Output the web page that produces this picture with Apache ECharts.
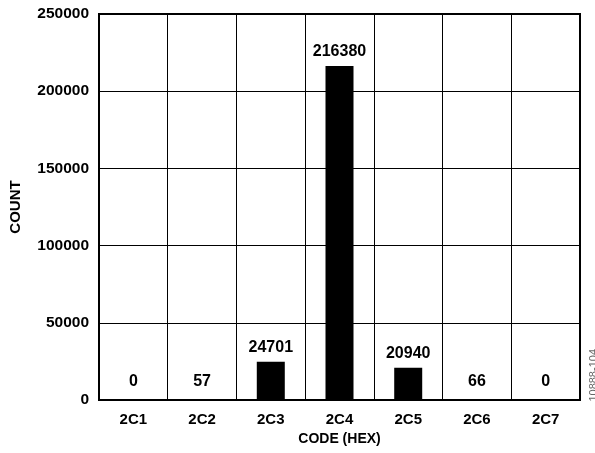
<!DOCTYPE html>
<html>
<head>
<meta charset="utf-8">
<script src="https://cdn.jsdelivr.net/npm/echarts@6/dist/echarts.min.js"></script>
<style>
html,body{margin:0;padding:0;background:#fff;}
#c{width:595px;height:453px;}
</style>
</head>
<body>
<div id="c"></div>
<script>
var categories = ['2C1','2C2','2C3','2C4','2C5','2C6','2C7'];
var counts = [0, 57, 24701, 216380, 20940, 66, 0];
var yMin = 0, yMax = 250000, yStep = 50000;

var FONT = '"Liberation Sans", Arial, sans-serif';
var chart = echarts.init(document.getElementById('c'), null, {renderer:'canvas'});
chart.setOption({
  animation: false,
  backgroundColor: '#fff',
  grid: {left: 98, right: 15, top: 14, bottom: 53, show: true, borderColor: '#000', borderWidth: 2, backgroundColor: 'transparent'},
  xAxis: {
    type: 'category',
    data: categories,
    name: 'CODE (HEX)',
    nameLocation: 'middle',
    nameGap: 30,
    nameTextStyle: {fontFamily: FONT, fontWeight: 'bold', fontSize: 14, color: '#000'},
    axisLine: {show: true, lineStyle: {color: '#000', width: 2}},
    axisTick: {show: false},
    axisLabel: {fontFamily: FONT, fontWeight: 'bold', fontSize: 15, color: '#000', margin: 12},
    splitLine: {show: true, lineStyle: {color: '#000', width: 1}}
  },
  yAxis: {
    type: 'value',
    min: yMin, max: yMax, interval: yStep,
    name: 'COUNT',
    nameLocation: 'middle',
    nameGap: 76,
    nameTextStyle: {fontFamily: FONT, fontWeight: 'bold', fontSize: 15, color: '#000'},
    axisLine: {show: true, lineStyle: {color: '#000', width: 2}},
    axisTick: {show: false},
    axisLabel: {fontFamily: FONT, fontWeight: 'bold', fontSize: 15.5, color: '#000', margin: 10,
      formatter: function(v){ return String(v); }},
    splitLine: {show: true, lineStyle: {color: '#000', width: 1}}
  },
  series: [{
    type: 'bar',
    barWidth: 28,
    itemStyle: {color: '#000'},
    label: {show: true, position: 'top', distance: 6, fontFamily: FONT, fontWeight: 'bold', fontSize: 16, color: '#000'},
    data: counts.map(function(v){ return {value: v, label: {distance: v < 1000 ? 10 : 6}}; })
  }],
  graphic: [{
    type: 'text',
    left: 588,
    top: 349,
    rotation: Math.PI/2,
    style: {text: '10888-104', fontFamily: FONT, fontSize: 11, fill: '#666'}
  }]
});
</script>
</body>
</html>
